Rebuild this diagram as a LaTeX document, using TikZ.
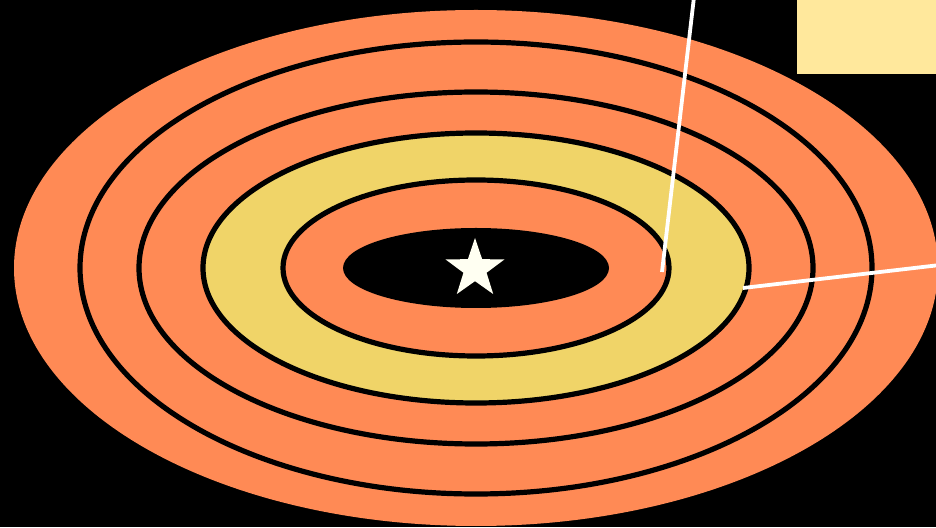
\documentclass[tikz,border=0pt]{standalone}
\usepackage{xcolor}
\definecolor{fundo}   {HTML}{000000}
\definecolor{laranja} {HTML}{FF8A55}
\definecolor{amarelo} {HTML}{F0D468}
\definecolor{creme}   {HTML}{FFE89C}
\definecolor{marfim}  {HTML}{FFFFF2}
\usepackage{tikz}
\usetikzlibrary{shapes.geometric}

\begin{document}
\begin{tikzpicture}[x=1pt, y=1pt,
  anel/.style={draw=black, line width=5.2pt},
  guia/.style={draw=white, line width=3.8pt},
  estrela/.style={star, star points=5, star point ratio=2.55, minimum size=62pt, inner sep=0pt, fill=marfim}]
  % fundo
  \fill[fundo] (0,0) rectangle (936,527);
  \useasboundingbox (0,0) rectangle (936,527);
  \clip (0,0) rectangle (936,527);
  \coordinate (centro) at (476,259);
  % alvo
  \fill[laranja] (centro) ellipse [x radius=462pt, y radius=258pt];
  \fill[amarelo] (centro) ellipse [x radius=273pt, y radius=135pt];
  \fill[laranja] (centro) ellipse [x radius=193pt, y radius=88pt];
  \fill[black] (centro) ellipse [x radius=133pt, y radius=40pt];
  \draw[anel] (centro) ellipse [x radius=396pt, y radius=226pt];
  \draw[anel] (centro) ellipse [x radius=337pt, y radius=176pt];
  \draw[anel] (centro) ellipse [x radius=273pt, y radius=135pt];
  \draw[anel] (centro) ellipse [x radius=193pt, y radius=88pt];
  \node[estrela] (meio) at (475,258) {};
  % quadro
  \node[fill=creme, minimum width=140pt, minimum height=75pt, inner sep=0pt, anchor=north east] (quadro) at (937,528) {};
  % guias
  \coordinate (p1) at (662,255);
  \coordinate (q1) at (694,530);
  \coordinate (p2) at (743,239);
  \coordinate (q2) at (940,262);
  \draw[guia] (p1) -- (q1);
  \draw[guia] (p2) -- (q2);
\end{tikzpicture}
\end{document}
